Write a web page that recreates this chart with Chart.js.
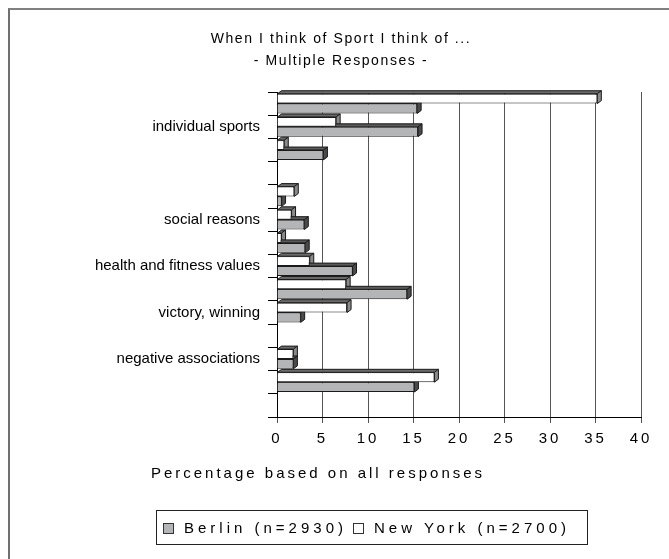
<!DOCTYPE html>
<html>
<head>
<meta charset="utf-8">
<script src="https://cdn.jsdelivr.net/npm/chart.js@4.4.1/dist/chart.umd.min.js"></script>
<style>
  body { margin: 0; background: #fff; }
  #wrap { position: relative; width: 669px; height: 559px; overflow: hidden; font-family: "Liberation Sans", Arial, sans-serif; color: #000; }
  #frame { position: absolute; left: 8px; top: 8px; width: 700px; height: 600px; border-top: 2px solid #808080; border-left: 2px solid #707070; }
  canvas { position: absolute; left: 0; top: 0; }
  .title { position: absolute; left: 0; width: 682px; text-align: center; font-size: 14px; letter-spacing: 1.6px; line-height: 18px; }
  #xtitle { position: absolute; left: 0; width: 636px; top: 464px; text-align: center; font-size: 15px; letter-spacing: 3px; line-height: 18px; }
  #legend { position: absolute; left: 156px; top: 510px; width: 424px; height: 33px; border: 1px solid #222; padding-left: 6px; font-size: 15px; letter-spacing: 4px; line-height: 33px; white-space: nowrap; }
  .sw { display: inline-block; width: 9px; height: 9px; border: 1px solid #333; vertical-align: -1px; }
</style>
</head>
<body>
<div id="wrap">
  <div id="frame"></div>
  <canvas id="chart" width="669" height="559"></canvas>
  <div class="title" style="top:29px">When I think of Sport I think of ...</div>
  <div class="title" style="top:51px">- Multiple Responses -</div>
  <div id="xtitle">Percentage based on all responses</div>
  <div id="legend"><span class="sw" style="background:#b3b5b7;margin-right:10px"></span>Berlin (n=2930)<span class="sw" style="background:#fff;margin-left:6px;margin-right:10px"></span>New York (n=2700)</div>
</div>
<script>
// categories top to bottom, blanks are the unlabelled rows
const categories = ['', 'individual sports', '', '', '', 'social reasons', '', 'health and fitness values', '', 'victory, winning', '', 'negative associations', '', ''];
const newYork = [35.2, 6.5, 0.8, null, 1.9, 1.6, 0.5, 3.6, 7.6, 7.7, null, 1.8, 17.3, null];
const berlin = [15.4, 15.5, 5.1, null, 0.5, 3.0, 3.1, 8.3, 14.3, 2.6, null, 1.8, 15.1, null];
const xTicks = [0, 5, 10, 15, 20, 25, 30, 35, 40];

// fake 3D depth on each bar (top and right faces)
const depth3d = {
    id: 'depth3d',
    beforeDatasetsDraw(chart) {
        const ctx = chart.ctx;
        const dx = 4, dy = -3;
        chart.data.datasets.forEach((ds, i) => {
            chart.getDatasetMeta(i).data.forEach((bar, j) => {
                if (ds.data[j] == null) return;
                const p = bar.getProps(['x', 'y', 'base', 'height'], true);
                const top = p.y - p.height / 2, bottom = p.y + p.height / 2;
                ctx.save();
                ctx.strokeStyle = '#1a1a1a';
                ctx.lineWidth = 1;
                ctx.fillStyle = ds.topColor;
                ctx.beginPath();
                ctx.moveTo(p.base, top);
                ctx.lineTo(p.x, top);
                ctx.lineTo(p.x + dx, top + dy);
                ctx.lineTo(p.base + dx, top + dy);
                ctx.closePath();
                ctx.fill();
                ctx.stroke();
                ctx.fillStyle = ds.sideColor;
                ctx.beginPath();
                ctx.moveTo(p.x, top);
                ctx.lineTo(p.x + dx, top + dy);
                ctx.lineTo(p.x + dx, bottom + dy);
                ctx.lineTo(p.x, bottom);
                ctx.closePath();
                ctx.fill();
                ctx.stroke();
                ctx.restore();
            });
        });
    }
};

// spaced out digits on the value axis
const spacedTicks = {
    id: 'spacedTicks',
    beforeDraw(chart) {
        const xs = chart.scales.x;
        if (xs._spaced) return;
        const orig = xs.drawLabels;
        xs.drawLabels = function (area) {
            this.ctx.save();
            this.ctx.letterSpacing = '3px';
            orig.call(this, area);
            this.ctx.restore();
        };
        xs._spaced = true;
    }
};

new Chart(document.getElementById('chart'), {
    type: 'bar',
    data: {
        labels: categories,
        datasets: [
            {
                label: 'New York (n=2700)',
                data: newYork,
                backgroundColor: '#ffffff',
                borderColor: '#1a1a1a',
                borderWidth: 1,
                topColor: '#6a6a6a',
                sideColor: '#8a8a8a',
                categoryPercentage: 0.85,
                barPercentage: 1.0
            },
            {
                label: 'Berlin (n=2930)',
                data: berlin,
                backgroundColor: '#b3b5b7',
                borderColor: '#1a1a1a',
                borderWidth: 1,
                topColor: '#5a5a5a',
                sideColor: '#4a4a4a',
                categoryPercentage: 0.85,
                barPercentage: 1.0
            }
        ]
    },
    options: {
        indexAxis: 'y',
        responsive: false,
        animation: false,
        devicePixelRatio: 1,
        layout: { padding: { top: 92, right: 28, left: 0, bottom: 0 } },
        plugins: {
            legend: { display: false },
            tooltip: { enabled: false }
        },
        scales: {
            x: {
                min: 0,
                max: 40,
                afterFit: (s) => { s.height = 142; },
                afterBuildTicks: (s) => { s.ticks = xTicks.map(v => ({ value: v })); },
                grid: { color: '#555', tickLength: 6 },
                border: { color: '#000' },
                ticks: { color: '#000', padding: 7, font: { family: 'Liberation Sans', size: 15 } }
            },
            y: {
                afterFit: (s) => { s.width = 277; },
                grid: { drawOnChartArea: false, color: '#000', tickLength: 9 },
                border: { color: '#000' },
                ticks: { color: '#000', autoSkip: false, padding: 8, font: { family: 'Liberation Sans', size: 15 } }
            }
        }
    },
    plugins: [depth3d, spacedTicks]
});
</script>
</body>
</html>
